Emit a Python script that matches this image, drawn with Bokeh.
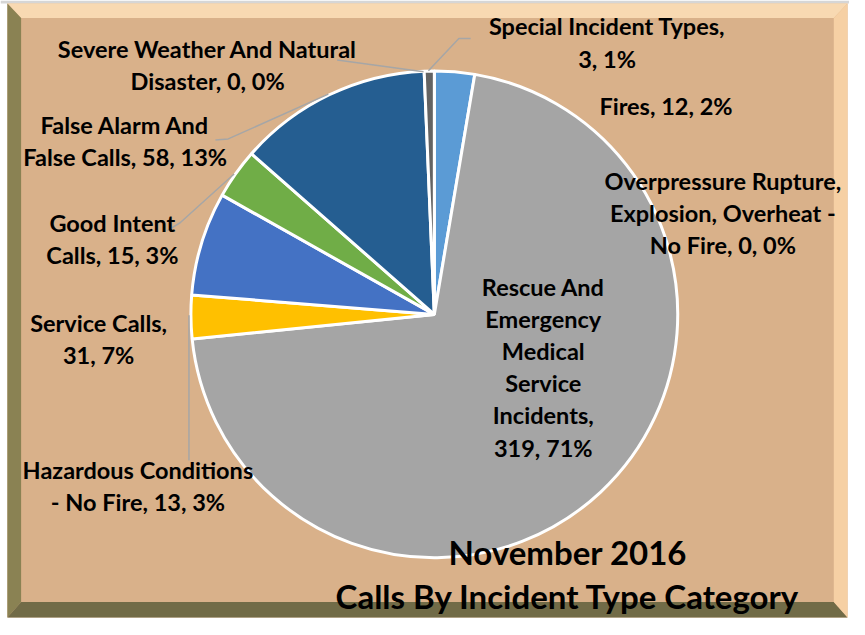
import math
import textwrap
from bokeh.plotting import figure
from bokeh.models import Range1d, ColumnDataSource
from bokeh.core.properties import value
from bokeh.embed import file_html
from bokeh.resources import INLINE

# ---- data ----
categories = [
    "Fires",
    "Overpressure Rupture, Explosion, Overheat - No Fire",
    "Rescue And Emergency Medical Service Incidents",
    "Hazardous Conditions - No Fire",
    "Service Calls",
    "Good Intent Calls",
    "False Alarm And False Calls",
    "Severe Weather And Natural Disaster",
    "Special Incident Types",
]
counts = [12, 0, 319, 13, 31, 15, 58, 0, 3]
pct_labels = ["2%", "0%", "71%", "3%", "7%", "3%", "13%", "0%", "1%"]
colors = ["#5B9BD5", "#ED7D31", "#A5A5A5", "#FFC000", "#4472C4",
          "#70AD47", "#255E91", "#9E480E", "#636363"]
title_lines = ["November 2016", "Calls By Incident Type Category"]

# ---- layout (reference pixel coordinates) ----
W, H = 865, 635
FACE = "#D9B18A"
CX, CY, R = 442, 322, 248
# label block centre (x, y) and wrap width
label_layout = [
    (678, 108, 20),
    (736, 218, 21),
    (553, 376, 10),
    (140, 498, 20),
    (100, 347, 14),
    (114, 245, 13),
    (127, 144, 20),
    (211, 66, 26),
    (618, 43, 23),
]
leaders = [
    [(343, 61), (431, 73)],
    [(436, 72), (467, 39), (479, 39)],
    [(219, 143), (232, 142), (334, 96)],
    [(170, 236), (183, 228), (238, 178)],
    [(192, 323), (192, 472)],
]

def Y(y):
    return H - y

p = figure(width=849, height=619, output_backend="svg", toolbar_location=None,
           x_range=Range1d(0, W), y_range=Range1d(0, H), min_border=0)
p.axis.visible = False
p.grid.visible = False
p.outline_line_color = None
p.background_fill_color = "white"
p.border_fill_color = "white"

# outer light line and face
p.patch([0, W, W, 0], [Y(0), Y(0), Y(3), Y(3)], fill_color="#D6D6D6", line_color=None)
p.patch([7, 863, 863, 7], [Y(3), Y(3), Y(633), Y(633)], fill_color=FACE, line_color=None)

# bevel frame
OL, OT, OR, OB = 7, 3, 863, 633
IL, IT, IR, IB = 21, 18, 849, 617
bands = [
    ([OL, OR, IR, IL], [OT, OT, IT, IT], "#F8D9B2"),
    ([OL, IL, IL, OL], [OT, IT, IB, OB], "#8A8253"),
    ([OL, IL, IR, OR], [OB, IB, IB, OB], "#716B47"),
    ([OR, IR, IR, OR], [OT, IT, IB, OB], "#F6D0A4"),
]
for xs, ys, c in bands:
    p.patch(xs, [Y(v) for v in ys], fill_color=c, line_color=None)

# pie wedges
total = sum(counts)
starts, ends, cols = [], [], []
cum = 0.0
for c, col in zip(counts, colors):
    a0 = math.pi / 2 - cum / total * 2 * math.pi
    cum += c
    a1 = math.pi / 2 - cum / total * 2 * math.pi
    if c > 0:
        starts.append(a0)
        ends.append(a1)
        cols.append(col)
src = ColumnDataSource(dict(x=[CX] * len(starts), y=[Y(CY)] * len(starts),
                            s=starts, e=ends, c=cols))
p.wedge(x="x", y="y", radius=R, start_angle="s", end_angle="e",
        direction="clock", fill_color="c", line_color="white", line_width=3,
        source=src)

# leader lines
for pts in leaders:
    p.line([q[0] for q in pts], [Y(q[1]) for q in pts], line_color="#A6A6A6",
           line_width=1.5)

# data labels
texts, lx, ly = [], [], []
for cat, cnt, pct, (x, y, w) in zip(categories, counts, pct_labels, label_layout):
    s = f"{cat}, {cnt}, {pct}"
    texts.append("\n".join(textwrap.wrap(s, w)))
    lx.append(x)
    ly.append(Y(y))
p.text(lx, ly, text=texts, text_font=value("Lato"), text_font_style="bold",
       text_font_size="23.5px", text_align="center", text_baseline="middle",
       text_line_height=1.15, text_color="black")

# title
p.text([578], [Y(588)], text=["\n".join(title_lines)], text_font=value("Lato"),
       text_font_style="bold", text_font_size="33px", text_align="center",
       text_baseline="middle", text_line_height=1.1, text_color="black")

open("out.html", "w").write(file_html(p, INLINE))
